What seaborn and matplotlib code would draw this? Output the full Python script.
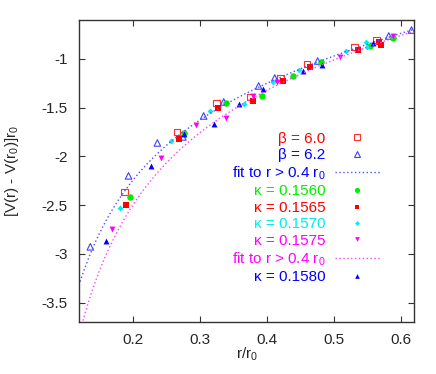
import numpy as np
import pandas as pd
import matplotlib
matplotlib.use("Agg")
import matplotlib.pyplot as plt
import seaborn as sns

# quenched data (open symbols)
r_b60 = [0.188, 0.266, 0.325, 0.376, 0.421, 0.460, 0.531, 0.564]
v_b60 = [-2.364, -1.749, -1.451, -1.390, -1.195, -1.051, -0.877, -0.805]
r_b62 = [0.137, 0.194, 0.237, 0.275, 0.306, 0.336, 0.388, 0.412, 0.476, 0.582, 0.616]
v_b62 = [-2.928, -2.200, -1.862, -1.800, -1.585, -1.441, -1.277, -1.195, -1.021, -0.764, -0.703]

# dynamical data (filled symbols)
r_k1560 = [0.196, 0.276, 0.340, 0.393, 0.439, 0.481, 0.554, 0.588]
v_k1560 = [-2.415, -1.759, -1.451, -1.379, -1.174, -1.031, -0.867, -0.785]
r_k1565 = [0.190, 0.269, 0.328, 0.379, 0.424, 0.464, 0.536, 0.568, 0.570]
v_k1565 = [-2.497, -1.821, -1.503, -1.431, -1.226, -1.082, -0.908, -0.826, -0.856]
r_k1570 = [0.182, 0.258, 0.316, 0.366, 0.409, 0.448, 0.518, 0.548, 0.550]
v_k1570 = [-2.528, -1.841, -1.533, -1.462, -1.236, -1.113, -0.918, -0.826, -0.877]
r_k1575 = [0.170, 0.242, 0.294, 0.340, 0.379, 0.416, 0.510, 0.588]
v_k1575 = [-2.744, -2.015, -1.677, -1.605, -1.379, -1.236, -0.979, -0.764]
r_k1580 = [0.161, 0.228, 0.276, 0.321, 0.358, 0.394, 0.454, 0.482, 0.558]
v_k1580 = [-2.867, -2.097, -1.769, -1.667, -1.462, -1.308, -1.123, -1.062, -0.836]

# fitted Coulomb coefficients (Sommer form)
e_quenched = 0.29
e_dynamical = 0.37

x_ticks = [0.2, 0.3, 0.4, 0.5, 0.6]
y_ticks = [-1, -1.5, -2, -2.5, -3, -3.5]


def sommer(r, e):
    return -(1.65 - e) * (1 - r) - e * (1 / r - 1)


sns.set_style("ticks")
plt.rcParams['font.family'] = ['Liberation Sans', 'DejaVu Sans']
plt.rcParams['mathtext.fontset'] = 'custom'
plt.rcParams['mathtext.rm'] = 'Liberation Sans'
plt.rcParams['mathtext.it'] = 'Liberation Sans:italic'
plt.rcParams['axes.unicode_minus'] = False
plt.rcParams['font.size'] = 11

fig = plt.figure(figsize=(4.36, 3.74), dpi=100)
ax = fig.add_axes([0.181, 0.139, 0.769, 0.8075])

r_fit = np.linspace(0.12, 0.62, 300)

series = [
    # label, r, v, marker, size, face, edge, text colour
    ('β = 6.0', r_b60, v_b60, 's', 22, 'none', '#ff3030', 'red'),
    ('β = 6.2', r_b62, v_b62, '^', 22, 'none', '#4040ff', 'blue'),
    ('fit_q', None, None, None, None, None, '#5050ff', 'blue'),
    ('κ = 0.1560', r_k1560, v_k1560, 'o', 22, '#00ee00', '#00ee00', '#00ee00'),
    ('κ = 0.1565', r_k1565, v_k1565, 's', 20, 'red', 'red', 'red'),
    ('κ = 0.1570', r_k1570, v_k1570, 'D', 9, '#00eeee', '#00eeee', '#00eeee'),
    ('κ = 0.1575', r_k1575, v_k1575, 'v', 18, '#ff00ff', '#ff00ff', '#ff00ff'),
    ('fit_d', None, None, None, None, None, '#ff40ff', '#ff00ff'),
    ('κ = 0.1580', r_k1580, v_k1580, '^', 18, 'blue', 'blue', 'blue'),
]

handles, labels, colours = [], [], []
for lab, r, v, mk, s, fc, ec, tc in series:
    if r is None:
        e = e_quenched if lab == 'fit_q' else e_dynamical
        df = pd.DataFrame({'r': r_fit, 'v': sommer(r_fit, e)})
        sns.lineplot(data=df, x='r', y='v', ax=ax, color=ec, lw=1.0,
                     linestyle=(0, (1, 1.8)), sort=False)
        h = ax.lines[-1]
        labels.append('fit to r > 0.4 r$_0$')
    else:
        df = pd.DataFrame({'r': r, 'v': v})
        sns.scatterplot(data=df, x='r', y='v', ax=ax, marker=mk, s=s,
                        facecolor=fc, edgecolor=ec,
                        linewidth=0.8 if fc == 'none' else 0)
        h = plt.Line2D([], [], ls='none', marker=mk, markersize=np.sqrt(s) * 0.8,
                       markerfacecolor=fc, markeredgecolor=ec,
                       markeredgewidth=0.8 if fc == 'none' else 0)
        labels.append(lab)
    handles.append(h)
    colours.append(tc)

ax.set_xlim(0.12, 0.62)
ax.set_ylim(-3.7, -0.6)
ax.set_xticks(x_ticks)
ax.set_yticks(y_ticks)
ax.set_xticklabels(['%g' % t for t in x_ticks])
ax.set_yticklabels(['%g' % t for t in y_ticks])
ax.tick_params(direction='in', top=True, right=True, length=4, width=0.8,
               color='#333333', labelsize=11)
ax.tick_params(axis='x', pad=8)
ax.tick_params(axis='y', pad=8)
for sp in ax.spines.values():
    sp.set_linewidth(1.0)
    sp.set_color('#333333')

ax.set_xlabel('r/r$_0$', fontsize=11, labelpad=-1)
ax.set_ylabel('[V(r) - V(r$_0$)]r$_0$', fontsize=11)
ax.yaxis.set_label_coords(-0.172, 0.5)

ax.legend(handles, labels, labelcolor=colours, frameon=False,
          loc='upper right', bbox_to_anchor=(0.899, 0.630),
          markerfirst=False, alignment='right', handlelength=3.0,
          handletextpad=0.6, labelspacing=0.16, borderpad=0,
          borderaxespad=0, fontsize=11)

fig.savefig('out.png', dpi=100)
